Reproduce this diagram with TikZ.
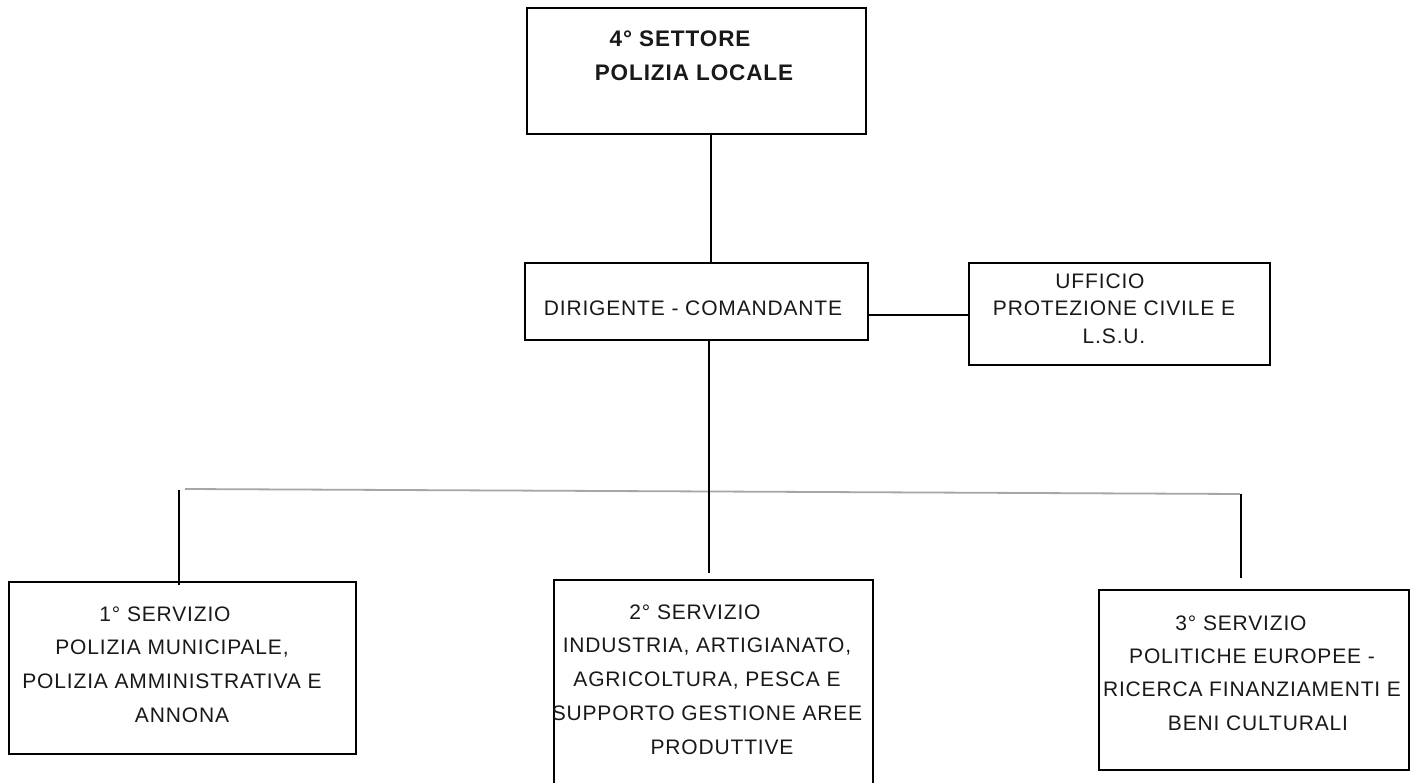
\documentclass[tikz,border=0pt]{standalone}
\usepackage{fontspec}
\setmainfont{Liberation Sans}[LetterSpace=4]
\begin{document}
\begin{tikzpicture}[x=1pt,y=-1pt]
\tikzset{
  box/.style={draw=black, line width=1.2pt, rectangle, inner sep=0pt},
  txt/.style={align=center, inner sep=0pt, text=black!90},
  conn/.style={draw=black, line width=1.1pt},
  bar/.style={draw=black!35, line width=1.8pt},
}
\useasboundingbox (0,0) rectangle (1411,783);
\clip (0,0) rectangle (1411,783);
\fill[white] (0,0) rectangle (1411,783);

% boxes
\node[box, minimum width=339pt, minimum height=126pt] (top) at (696.5,71) {};
\node[box, minimum width=343pt, minimum height=77pt] (dir) at (696.5,301.5) {};
\node[box, minimum width=301pt, minimum height=102pt] (uff) at (1119.5,314) {};
\node[box, minimum width=347pt, minimum height=172pt] (s1) at (182.5,668) {};
\node[box, minimum width=319pt, minimum height=220pt] (s2) at (713.5,690) {};
\node[box, minimum width=310pt, minimum height=180pt] (s3) at (1254,680) {};

% texts
\node[txt, font=\fontsize{22.5pt}{34pt}\selectfont\bfseries] (ttop) at (694,56)
  {4° SETTORE\hspace*{28pt}\\POLIZIA LOCALE};
\node[txt, font=\fontsize{21pt}{34pt}\selectfont] (tdir) at (693,308)
  {DIRIGENTE - COMANDANTE};
\node[txt, font=\fontsize{21pt}{27.5pt}\selectfont] (tuff) at (1114,308.5)
  {UFFICIO\hspace*{28pt}\\PROTEZIONE CIVILE E\\L.S.U.};
\node[txt, font=\fontsize{21pt}{33.7pt}\selectfont] (ts1) at (172,664.5)
  {1° SERVIZIO\hspace*{14pt}\\POLIZIA MUNICIPALE,\\POLIZIA AMMINISTRATIVA E\\\hspace*{20pt}ANNONA};
\node[txt, font=\fontsize{21pt}{33.75pt}\selectfont] (ts2) at (707,679.5)
  {2° SERVIZIO\hspace*{24pt}\\INDUSTRIA, ARTIGIANATO,\\AGRICOLTURA, PESCA E\\SUPPORTO GESTIONE AREE\\\hspace*{30pt}PRODUTTIVE};
\node[txt, font=\fontsize{21pt}{33.3pt}\selectfont] (ts3) at (1252,673)
  {3° SERVIZIO\hspace*{22pt}\\POLITICHE EUROPEE -\\RICERCA FINANZIAMENTI E\\\hspace*{12pt}BENI CULTURALI};

% helper coordinates
\coordinate (tx) at (711,0);
\coordinate (mx) at (709,0);
\coordinate (cy) at (0,315);
\coordinate (hl) at (185,489);
\coordinate (hr) at (1240,494);
\coordinate (l1) at (179,490);
\coordinate (l2) at (179,585);
\coordinate (m2) at (709,573);
\coordinate (r1) at (1241,494);
\coordinate (r2) at (1241,578);

% connectors
\draw[conn] (top.south -| tx) -- (dir.north -| tx);
\draw[conn] (dir.east |- cy) -- (uff.west |- cy);
\draw[bar] (hl) -- (hr);
\draw[conn] (dir.south -| mx) -- (m2);
\draw[conn] (l1) -- (l2);
\draw[conn] (r1) -- (r2);
\end{tikzpicture}
\end{document}
